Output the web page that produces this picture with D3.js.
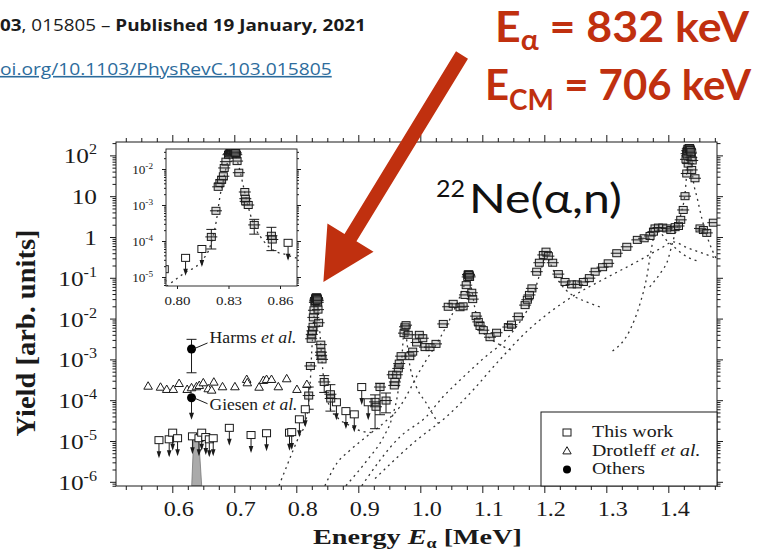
<!DOCTYPE html>
<html>
<head>
<meta charset="utf-8">
<script src="https://cdn.jsdelivr.net/npm/d3@7"></script>
<style>
  html, body { margin: 0; padding: 0; background: #fff; }
  svg { display: block; }
</style>
</head>
<body>
<svg id="chart" width="763" height="551"></svg>
<script>
// ---------------- data ----------------
// axis tick values / labels
const xMajorTicks = [0.6, 0.7, 0.8, 0.9, 1.0, 1.1, 1.2, 1.3, 1.4];
const xTickLabels = ["0.6", "0.7", "0.8", "0.9", "1.0", "1.1", "1.2", "1.3", "1.4"];
const yDecades = [-6, -5, -4, -3, -2, -1, 0, 1, 2];
const yTickBase = ["10", "10", "10", "10", "10", "10", "1", "10", "10"];
const yTickExp  = ["-6", "-5", "-4", "-3", "-2", "-1", "", "", "2"];
const insetXTicks = [0.80, 0.83, 0.86];
const insetXLabels = ["0.80", "0.83", "0.86"];
const insetDecades = [-5, -4, -3, -2];

// this work: measured yields (E_alpha in MeV, yield in arb. units)
const workEnergy = [
  0.820, 0.8227, 0.824, 0.825, 0.826, 0.827, 0.8275, 0.8285, 0.830,
  0.831, 0.8315, 0.832, 0.8325, 0.833, 0.8335, 0.834, 0.8345,
  0.835, 0.836, 0.8395, 0.8398, 0.840, 0.8415, 0.845, 0.855, 0.8555,
  0.927, 0.9285, 0.935, 0.9447, 0.9555, 0.958, 0.959, 0.962, 0.9645, 0.966,
  0.969, 0.9737, 0.9753, 0.977, 0.9806, 0.983, 0.9877, 0.994, 0.9984,
  1.004, 1.0076, 1.0156, 1.0253, 1.037, 1.045, 1.053, 1.064, 1.069,
  1.072, 1.074, 1.0775, 1.079, 1.083, 1.0845, 1.090, 1.0935, 1.0963,
  1.1016, 1.1124, 1.123, 1.142, 1.147, 1.158, 1.169, 1.1726, 1.176,
  1.180, 1.1877, 1.192, 1.1984, 1.2027, 1.2065, 1.2135, 1.2226, 1.2334,
  1.244, 1.253, 1.263, 1.2726, 1.282, 1.294, 1.303, 1.3168, 1.333,
  1.350, 1.361, 1.3705, 1.376, 1.3785, 1.384, 1.391, 1.3975, 1.404,
  1.411, 1.4164, 1.420, 1.424, 1.4269, 1.4297, 1.431, 1.432, 1.4325,
  1.433, 1.434, 1.435, 1.436, 1.437, 1.4377, 1.443, 1.4511, 1.4565,
  1.462, 1.4726
];
const workYield = [
  1.3e-4, 6.9e-4, 3.2e-3, 4.1e-3, 5.0e-3, 6.3e-3, 1.07e-2, 1.6e-2, 2.5e-2,
  2.8e-2, 3.0e-2, 3.2e-2, 3.2e-2, 3.1e-2, 3.0e-2, 2.75e-2, 2.5e-2,
  1.66e-2, 7.9e-3, 2.3e-3, 1.5e-3, 1.26e-3, 1.0e-3, 2.8e-4, 1.4e-4, 1.1e-4,
  9.1e-5, 6.9e-5, 2.1e-4, 9.8e-5, 4.2e-4, 2.3e-4, 2.8e-4, 4.2e-4, 6.0e-4, 7.9e-4,
  1.2e-3, 4.4e-3, 6.3e-3, 6.9e-3, 4.0e-3, 1.2e-3, 1.55e-3, 2.6e-3, 4.0e-3,
  3.3e-3, 2.0e-3, 2.0e-3, 2.4e-3, 7.4e-3, 1.95e-2, 2.3e-2, 1.9e-2, 2.0e-2,
  3.8e-2, 6.6e-2, 0.117, 0.112, 0.043, 0.030, 0.0115, 8.3e-3, 6.6e-3,
  5.2e-3, 3.5e-3, 4.5e-3, 6.2e-3, 7.1e-3, 0.0112, 0.0214, 0.029, 0.038,
  0.055, 0.141, 0.234, 0.363, 0.437, 0.339, 0.234, 0.123, 0.079,
  0.069, 0.069, 0.079, 0.098, 0.141, 0.182, 0.226, 0.40, 0.575,
  0.85, 0.93, 1.06, 1.35, 1.62, 1.70, 1.70, 1.62, 1.48,
  1.74, 1.86, 2.63, 4.6, 10, 36, 100, 63, 126,
  141, 151, 141, 112, 89, 44, 27.5, 1.62, 1.48,
  1.26, 2.24
];

// this work: fine-step scans over the tops of the strongest resonances
const scanEnergy = [
  0.8305, 0.8312, 0.8318, 0.8322, 0.8328, 0.8332, 0.8338, 0.8342,
  1.0765, 1.0772, 1.078, 1.0785, 1.0795,
  1.4285, 1.4295, 1.4305, 1.4315, 1.4335, 1.4345, 1.4355, 1.4365, 1.4385
];
const scanYield = [
  2.7e-2, 3.0e-2, 3.2e-2, 3.3e-2, 3.3e-2, 3.2e-2, 3.0e-2, 2.8e-2,
  0.105, 0.12, 0.122, 0.118, 0.105,
  80, 110, 130, 145, 150, 148, 135, 120, 75
];

// vertical error bars on selected points of this work
const errEnergy = [0.820, 0.845, 0.855, 0.927, 0.935, 0.9447];
const errLow    = [6.0e-5, 1.55e-4, 5.4e-5, 2.0e-5, 4.4e-5, 4.9e-5];
const errHigh   = [2.1e-4, 4.0e-4, 2.4e-4, 1.35e-4, 2.6e-4, 1.5e-4];

// this work: upper limits
const limitEnergy = [
  0.5785, 0.595, 0.6006, 0.6085, 0.6325, 0.643, 0.6474, 0.654, 0.6597, 0.666,
  0.692, 0.727, 0.752, 0.789, 0.7926, 0.805, 0.8145, 0.8647, 0.880, 0.8935,
  0.9055, 0.916
];
const limitYield = [
  1.05e-5, 1.1e-5, 1.6e-5, 1.17e-5, 1.3e-5, 1.17e-5, 1.6e-5, 1.25e-5, 1.1e-5, 1.17e-5,
  2.1e-5, 1.4e-5, 1.55e-5, 1.6e-5, 1.65e-5, 3.4e-5, 6.0e-5, 8.9e-5, 5.4e-5, 4.5e-5,
  2.1e-4, 8.9e-5
];

// Drotleff et al.
const drotleffEnergy = [
  0.561, 0.581, 0.591, 0.6016, 0.611, 0.624, 0.631, 0.639, 0.6435, 0.650,
  0.658, 0.6635, 0.667, 0.681, 0.701, 0.720, 0.721, 0.740, 0.747, 0.752,
  0.760, 0.771, 0.7845, 0.801, 0.817
];
const drotleffYield = [
  2.14e-4, 2.02e-4, 1.78e-4, 1.78e-4, 2.49e-4, 1.78e-4, 1.96e-4, 2.07e-4, 2.23e-4, 2.59e-4,
  1.85e-4, 1.71e-4, 2.69e-4, 2.07e-4, 2.07e-4, 3.13e-4, 2.59e-4, 2.02e-4, 2.96e-4, 3.13e-4,
  3.13e-4, 2.07e-4, 3.25e-4, 1.78e-4, 2.36e-4
];

// other measurements near 0.63 MeV
const othersName   = ["Harms", "Giesen"];
const othersEnergy = [0.631, 0.631];
const othersYield  = [1.8e-3, 1.15e-4];
const othersLow    = [4.7e-4, null];
const othersHigh   = [3.1e-3, null];
const othersLimit  = [false, true];

// shaded band of the 0.63 MeV limit
const shadeEnergy = [0.6313, 0.6345, 0.6425, 0.6474];
const shadeYield  = [8e-7, 1.2e-5, 1.2e-5, 8e-7];

// single-resonance fit curves, [E, yield]
const fit832 = [[0.772,8e-7],[0.785,2.5e-6],[0.795,6.0e-6],[0.804,1.26e-5],[0.814,2.7e-5],
  [0.8196,7.8e-5],[0.823,3.8e-4],[0.825,1.7e-3],[0.827,4.9e-3],[0.8293,1.45e-2],[0.8327,2.75e-2],
  [0.8366,9.3e-3],[0.8385,3.6e-3],[0.841,1.1e-3],[0.8444,3.1e-4],[0.850,1.07e-4],[0.856,5.6e-5],
  [0.864,4.1e-5],[0.870,3.3e-5],[0.882,2.6e-5],[0.895,2.0e-5],[0.908,1.7e-5],[0.924,1.6e-5]];
const fit975 = [[0.880,8e-7],[0.915,3.5e-6],[0.940,1.2e-5],[0.955,4e-5],[0.964,1.6e-4],
  [0.970,1.0e-3],[0.9745,6e-3],[0.978,3e-3],[0.982,9e-4],[0.9915,2.6e-4],[1.010,8.3e-5],[1.029,2.7e-5]];
const fit1078 = [[0.846,8e-7],[0.865,2.8e-6],[0.887,6e-6],[0.9135,1.3e-5],[0.940,2.7e-5],
  [0.967,6.9e-5],[0.983,1.8e-4],[0.994,3.8e-4],[1.010,9.8e-4],[1.030,3e-3],[1.045,8e-3],
  [1.060,2.5e-2],[1.070,6e-2],[1.0775,0.11],[1.083,5e-2],[1.088,1.8e-2],[1.0963,5.9e-3],
  [1.110,3.5e-3],[1.128,2.3e-3],[1.150,1.6e-3]];
const fit1200 = [[0.9055,8e-7],[0.967,1.26e-5],[1.010,4e-5],[1.037,1.23e-4],[1.0587,2.6e-4],
  [1.100,1e-3],[1.150,5e-3],[1.180,3e-2],[1.195,0.16],[1.2025,0.36],[1.210,0.22],[1.220,0.1],
  [1.235,0.05],[1.247,0.036],[1.270,0.025],[1.295,0.018]];
const fitBroad = [[0.927,1.2e-6],[0.994,1.05e-5],[1.0426,4e-5],[1.0855,1.8e-4],[1.118,6.6e-4],
  [1.174,5.2e-3],[1.247,0.036],[1.300,0.1],[1.350,0.25],[1.390,0.55],[1.408,0.76],[1.430,0.55],
  [1.455,0.4],[1.478,0.3]];
const fit1380 = [[1.310,1.6e-3],[1.338,5.2e-3],[1.355,2.5e-2],[1.365,0.1],[1.372,0.45],
  [1.378,1.2],[1.383,1.45],[1.389,1.2],[1.3965,0.85],[1.4027,0.70],[1.4297,0.33],[1.450,0.25]];
const fit1434 = [[1.370,0.06],[1.390,0.15],[1.3974,0.23],[1.408,0.85],[1.420,3.5],[1.427,12],
  [1.431,60],[1.434,125],[1.437,60],[1.441,20],[1.446,9.8],[1.455,2.5],[1.465,0.8],[1.478,0.28]];
const fitCurves = [fit832, fit975, fit1078, fit1200, fitBroad, fit1380, fit1434];

// ---------------- layout ----------------
const svg = d3.select("#chart");
const serif = "'Liberation Serif','Times New Roman',Times,serif";
const SX = 1.15;          // horizontal stretch of the figure lettering
const ink = "#1a1a1a";
const frame = { left: 116, right: 717, top: 142, bottom: 486 };
const inset = { left: 166, right: 297, top: 149, bottom: 286 };

const x = d3.scaleLinear().domain([0.5092, 1.4785]).range([frame.left, frame.right]);
const y = d3.scaleLog().domain([Math.pow(10, -6.103), Math.pow(10, 2.328)]).range([frame.bottom, frame.top]);
const xi = d3.scaleLinear().domain([0.7936, 0.8699]).range([inset.left, inset.right]);
const yi = d3.scaleLog().domain([Math.pow(10, -5.25), Math.pow(10, -1.444)]).range([inset.bottom, inset.top]);

const defs = svg.append("defs");
defs.append("clipPath").attr("id", "clipMain").append("rect")
  .attr("x", frame.left).attr("y", frame.top)
  .attr("width", frame.right - frame.left).attr("height", frame.bottom - frame.top);
defs.append("clipPath").attr("id", "clipInset").append("rect")
  .attr("x", inset.left).attr("y", inset.top)
  .attr("width", inset.right - inset.left).attr("height", inset.bottom - inset.top);

// place a text group at (px,py) and stretch it to a target width
function fitted(parent, px, py, targetW, build, anchor) {
  const g = parent.append("g");
  const t = g.append("text").attr("text-anchor", anchor || "start");
  build(t);
  const w = t.node().getBBox().width;
  g.attr("transform", `translate(${px},${py}) scale(${targetW / w},1)`);
  return g;
}

// ---------------- axes ----------------
function minorLogTicks(lo, hi) {
  const out = [];
  for (let k = -8; k <= 3; k++) for (let m = 2; m <= 9; m++) {
    const v = m * Math.pow(10, k);
    if (v > lo && v < hi) out.push(v);
  }
  return out;
}
const xMinor = d3.range(21, 60).filter(i => i % 4 !== 0).map(i => +(i * 0.025).toFixed(3));
const yMajorVals = yDecades.map(k => Math.pow(10, k));
const yMinorVals = minorLogTicks(y.domain()[0], y.domain()[1]);

function tickAxis(axisFn, scale, vals, size, tx, ty) {
  const g = svg.append("g").attr("transform", `translate(${tx},${ty})`)
    .call(axisFn(scale).tickValues(vals).tickSize(size).tickSizeOuter(0).tickFormat(""));
  g.select(".domain").remove();
  g.selectAll("line").attr("stroke", ink).attr("stroke-width", 1);
  return g;
}
const gxb = tickAxis(d3.axisBottom, x, xMajorTicks, 7, 0, frame.bottom);
tickAxis(d3.axisBottom, x, xMinor, 4, 0, frame.bottom);
tickAxis(d3.axisTop, x, xMajorTicks, 7, 0, frame.top);
tickAxis(d3.axisTop, x, xMinor, 4, 0, frame.top);
const gyl = tickAxis(d3.axisLeft, y, yMajorVals, 6, frame.left, 0);
tickAxis(d3.axisLeft, y, yMinorVals, 3.5, frame.left, 0);
tickAxis(d3.axisRight, y, yMajorVals, 6, frame.right, 0);
tickAxis(d3.axisRight, y, yMinorVals, 3.5, frame.right, 0);

// x tick labels (set slightly right of their ticks, as typeset in the figure)
gxb.selectAll(".tick").each(function (d, i) {
  d3.select(this).append("g").attr("transform", `translate(6,30) scale(${SX},1)`)
    .append("text").attr("text-anchor", "middle").attr("font-family", serif)
    .attr("font-size", 21).attr("fill", ink).text(xTickLabels[i]);
});
// y tick labels (powers of ten)
gyl.selectAll(".tick").each(function (d, i) {
  const t = d3.select(this).append("g").attr("transform", `translate(-19,7.5) scale(${SX},1)`)
    .append("text").attr("text-anchor", "end").attr("font-family", serif)
    .attr("font-size", 22).attr("fill", ink);
  t.append("tspan").text(yTickBase[i]);
  if (yTickExp[i]) t.append("tspan").attr("font-size", 14).attr("dy", -9).text(yTickExp[i]);
});

// axis titles
svg.append("g").attr("transform", "translate(35,333) rotate(-90)")
  .append("text").attr("text-anchor", "middle").attr("font-family", serif)
  .attr("font-weight", "bold").attr("font-size", 27).attr("fill", ink)
  .attr("textLength", 207).attr("lengthAdjust", "spacingAndGlyphs")
  .text("Yield [arb. units]");
fitted(svg, 313, 544, 209, t => {
  t.attr("font-family", serif).attr("font-weight", "bold").attr("font-size", 22).attr("fill", ink);
  t.append("tspan").text("Energy ");
  t.append("tspan").attr("font-style", "italic").text("E");
  t.append("tspan").attr("font-size", 14).attr("dy", 3.5).text("α");
  t.append("tspan").attr("dy", -3.5).text(" [MeV]");
});

// ---------------- main plot ----------------
const plot = svg.append("g").attr("clip-path", "url(#clipMain)");

function fitLayer(layer, xs, ys, curves) {
  const line = d3.line().x(d => xs(d[0])).y(d => ys(d[1])).curve(d3.curveMonotoneX);
  layer.append("g").selectAll("path").data(curves).join("path")
    .attr("d", line).attr("fill", "none").attr("stroke", "#333")
    .attr("stroke-width", 1.3).attr("stroke-dasharray", "2 4");
}
function limitLayer(layer, xs, ys, es, vs) {
  const g = layer.append("g");
  es.forEach((e, i) => {
    const cx = xs(e), cy = ys(vs[i]);
    g.append("line").attr("x1", cx).attr("x2", cx).attr("y1", cy + 3.5).attr("y2", cy + 16)
      .attr("stroke", ink).attr("stroke-width", 1);
    g.append("path").attr("d", `M${cx - 2.3},${cy + 11}L${cx + 2.3},${cy + 11}L${cx},${cy + 18}Z`)
      .attr("fill", ink);
    g.append("rect").attr("x", cx - 4).attr("y", cy - 3.5).attr("width", 8).attr("height", 7)
      .attr("fill", "#fff").attr("stroke", ink).attr("stroke-width", 1);
  });
}
function errLayer(layer, xs, ys) {
  const g = layer.append("g").attr("stroke", ink).attr("stroke-width", 1);
  errEnergy.forEach((e, i) => {
    const cx = xs(e), y0 = ys(errLow[i]), y1 = ys(errHigh[i]);
    g.append("line").attr("x1", cx).attr("x2", cx).attr("y1", y0).attr("y2", y1);
    g.append("line").attr("x1", cx - 5).attr("x2", cx + 5).attr("y1", y0).attr("y2", y0);
    g.append("line").attr("x1", cx - 5).attr("x2", cx + 5).attr("y1", y1).attr("y2", y1);
  });
}
function workLayer(layer, xs, ys, es, vs) {
  const g = layer.append("g");
  es.forEach((e, i) => {
    const cx = xs(e), cy = ys(vs[i]);
    g.append("rect").attr("x", cx - 4).attr("y", cy - 3.5).attr("width", 8).attr("height", 7)
      .attr("fill", "rgba(150,150,150,0.35)").attr("stroke", ink).attr("stroke-width", 1);
    g.append("line").attr("x1", cx - 6).attr("x2", cx + 6).attr("y1", cy).attr("y2", cy)
      .attr("stroke", ink).attr("stroke-width", 1);
  });
}

// shaded 0.63 MeV band
plot.append("path")
  .attr("d", d3.line().x(d => x(d)).y((d, i) => y(shadeYield[i]))(shadeEnergy) + "Z")
  .attr("fill", "#aaa").attr("stroke", "#777").attr("stroke-width", 0.8);

fitLayer(plot, x, y, fitCurves);

// Drotleff triangles
plot.append("g").selectAll("path").data(drotleffEnergy).join("path")
  .attr("transform", (d, i) => `translate(${x(d)},${y(drotleffYield[i])})`)
  .attr("d", d3.symbol(d3.symbolTriangle, 32))
  .attr("fill", "#fff").attr("stroke", ink).attr("stroke-width", 1);

errLayer(plot, x, y);
limitLayer(plot, x, y, limitEnergy, limitYield);
workLayer(plot, x, y, workEnergy, workYield);
workLayer(plot, x, y, scanEnergy, scanYield);

// other measurements
const others = svg.append("g");
othersEnergy.forEach((e, i) => {
  const cx = x(e), cy = y(othersYield[i]);
  if (othersLow[i] !== null) {
    const y0 = y(othersLow[i]), y1 = y(othersHigh[i]);
    others.append("line").attr("x1", cx).attr("x2", cx).attr("y1", y0).attr("y2", y1).attr("stroke", ink);
    others.append("line").attr("x1", cx - 5).attr("x2", cx + 5).attr("y1", y0).attr("y2", y0).attr("stroke", ink);
    others.append("line").attr("x1", cx - 5).attr("x2", cx + 5).attr("y1", y1).attr("y2", y1).attr("stroke", ink);
  }
  if (othersLimit[i]) {
    others.append("line").attr("x1", cx).attr("x2", cx).attr("y1", cy).attr("y2", cy + 20).attr("stroke", ink);
    others.append("path").attr("d", `M${cx - 2.5},${cy + 15}L${cx + 2.5},${cy + 15}L${cx},${cy + 22}Z`).attr("fill", ink);
  }
  others.append("circle").attr("cx", cx).attr("cy", cy).attr("r", 4.5).attr("fill", "#000");
  const dy = i === 0 ? -6 : 6;
  others.append("line").attr("x1", cx + 2).attr("y1", cy).attr("x2", cx + 16).attr("y2", cy + dy)
    .attr("stroke", ink).attr("stroke-width", 1);
  fitted(others, cx + 18, cy + (i === 0 ? -5.5 : 12.5), i === 0 ? 87 : 88, t => {
    t.attr("font-family", serif).attr("font-size", 16).attr("fill", ink);
    t.append("tspan").text(othersName[i] + " ");
    t.append("tspan").attr("font-style", "italic").text("et al.");
  });
});

// frame
svg.append("rect").attr("x", frame.left).attr("y", frame.top)
  .attr("width", frame.right - frame.left).attr("height", frame.bottom - frame.top)
  .attr("fill", "none").attr("stroke", ink).attr("stroke-width", 1);

// ---------------- inset: 0.832 MeV resonance ----------------
svg.append("rect").attr("x", inset.left).attr("y", inset.top)
  .attr("width", inset.right - inset.left).attr("height", inset.bottom - inset.top)
  .attr("fill", "#fff");
const ins = svg.append("g").attr("clip-path", "url(#clipInset)");
fitLayer(ins, xi, yi, [fit832]);
errLayer(ins, xi, yi);
limitLayer(ins, xi, yi, limitEnergy, limitYield);
workLayer(ins, xi, yi, workEnergy, workYield);
workLayer(ins, xi, yi, scanEnergy, scanYield);
svg.append("rect").attr("x", inset.left).attr("y", inset.top)
  .attr("width", inset.right - inset.left).attr("height", inset.bottom - inset.top)
  .attr("fill", "none").attr("stroke", ink).attr("stroke-width", 0.9);

const insMajor = insetDecades.map(k => Math.pow(10, k));
const insMinor = minorLogTicks(yi.domain()[0], yi.domain()[1]);
const gil = tickAxis(d3.axisLeft, yi, insMajor, 4, inset.left, 0);
tickAxis(d3.axisLeft, yi, insMinor, 2, inset.left, 0);
tickAxis(d3.axisRight, yi, insMajor, 4, inset.right, 0);
tickAxis(d3.axisRight, yi, insMinor, 2, inset.right, 0);
const gib = tickAxis(d3.axisBottom, xi, insetXTicks, 3, 0, inset.bottom);
gil.selectAll(".tick").each(function (d, i) {
  const t = d3.select(this).append("g").attr("transform", `translate(-13,4) scale(${SX},1)`)
    .append("text").attr("text-anchor", "end").attr("font-family", serif)
    .attr("font-size", 11.5).attr("fill", ink);
  t.append("tspan").text("10");
  t.append("tspan").attr("font-size", 8).attr("dy", -5).text(String(insetDecades[i]));
});
gib.selectAll(".tick").each(function (d, i) {
  d3.select(this).append("g").attr("transform", `translate(0,19) scale(${SX},1)`)
    .append("text").attr("text-anchor", "middle").attr("font-family", serif)
    .attr("font-size", 13).attr("fill", ink).text(insetXLabels[i]);
});

// ---------------- legend ----------------
const leg = svg.append("g");
leg.append("rect").attr("x", 541).attr("y", 412).attr("width", 176).attr("height", 74)
  .attr("fill", "#fff").attr("stroke", ink).attr("stroke-width", 1);
leg.append("rect").attr("x", 563).attr("y", 429).attr("width", 8).attr("height", 7)
  .attr("fill", "#fff").attr("stroke", ink);
leg.append("path").attr("transform", "translate(567,451.5)")
  .attr("d", d3.symbol(d3.symbolTriangle, 30)).attr("fill", "#fff").attr("stroke", ink);
leg.append("circle").attr("cx", 567).attr("cy", 469.5).attr("r", 4).attr("fill", "#000");
const legText = [["This work", ""], ["Drotleff ", "et al."], ["Others", ""]];
[437, 455.5, 474].forEach((by, i) => {
  const g = leg.append("g").attr("transform", `translate(592,${by}) scale(1.17,1)`);
  const t = g.append("text").attr("font-family", serif).attr("font-size", 17).attr("fill", ink);
  t.append("tspan").text(legText[i][0]);
  if (legText[i][1]) t.append("tspan").attr("font-style", "italic").text(legText[i][1]);
});

// ---------------- slide annotations ----------------
fitted(svg, 0, 31, 366, t => {
  t.attr("font-family", "'Open Sans',sans-serif").attr("font-size", 16).attr("fill", "#1b1b1b");
  t.append("tspan").attr("font-weight", "bold").text("03");
  t.append("tspan").text(", 015805 – ");
  t.append("tspan").attr("font-weight", "bold").text("Published 19 January, 2021");
});
fitted(svg, 0, 75, 332, t => {
  t.attr("font-family", "'Open Sans',sans-serif").attr("font-size", 16).attr("fill", "#2d6c9c")
    .attr("text-decoration", "underline").text("oi.org/10.1103/PhysRevC.103.015805");
});

fitted(svg, 436, 197, 29, t => {
  t.attr("font-family", "Lato,'Open Sans',sans-serif").attr("font-size", 24).attr("fill", "#111").text("22");
});
fitted(svg, 469, 213, 153, t => {
  t.attr("font-family", "Lato,'Open Sans',sans-serif").attr("font-size", 40).attr("fill", "#111").text("Ne(α,n)");
});

const red = "#c0300f";
// arrow pointing at the 0.832 MeV peak
(function () {
  const tail = [462, 55], tip = [x(0.834) + 6, y(0.04) - 12];
  const dx = tip[0] - tail[0], dy = tip[1] - tail[1], L = Math.hypot(dx, dy);
  const ux = dx / L, uy = dy / L, px = -uy, py = ux;
  const hw = 7, headL = 52, headW = 27;
  const bx = tip[0] - ux * headL, by = tip[1] - uy * headL;
  const pts = [
    [tail[0] + px * hw, tail[1] + py * hw], [bx + px * hw, by + py * hw],
    [bx + px * headW, by + py * headW], tip,
    [bx - px * headW, by - py * headW], [bx - px * hw, by - py * hw],
    [tail[0] - px * hw, tail[1] - py * hw]
  ];
  svg.append("path").attr("d", "M" + pts.map(p => p.join(",")).join("L") + "Z").attr("fill", red);
})();

fitted(svg, 495, 42, 255, t => {
  t.attr("font-family", "Lato,'Open Sans',sans-serif").attr("font-weight", "bold")
    .attr("font-size", 42).attr("fill", red);
  t.append("tspan").text("E");
  t.append("tspan").attr("font-size", 28).attr("dy", 8).text("α");
  t.append("tspan").attr("dy", -8).text(" = 832 keV");
});
fitted(svg, 485, 100, 267, t => {
  t.attr("font-family", "Lato,'Open Sans',sans-serif").attr("font-weight", "bold")
    .attr("font-size", 42).attr("fill", red);
  t.append("tspan").text("E");
  t.append("tspan").attr("font-size", 28).attr("dy", 10).text("CM");
  t.append("tspan").attr("dy", -10).text(" = 706 keV");
});
</script>
</body>
</html>
